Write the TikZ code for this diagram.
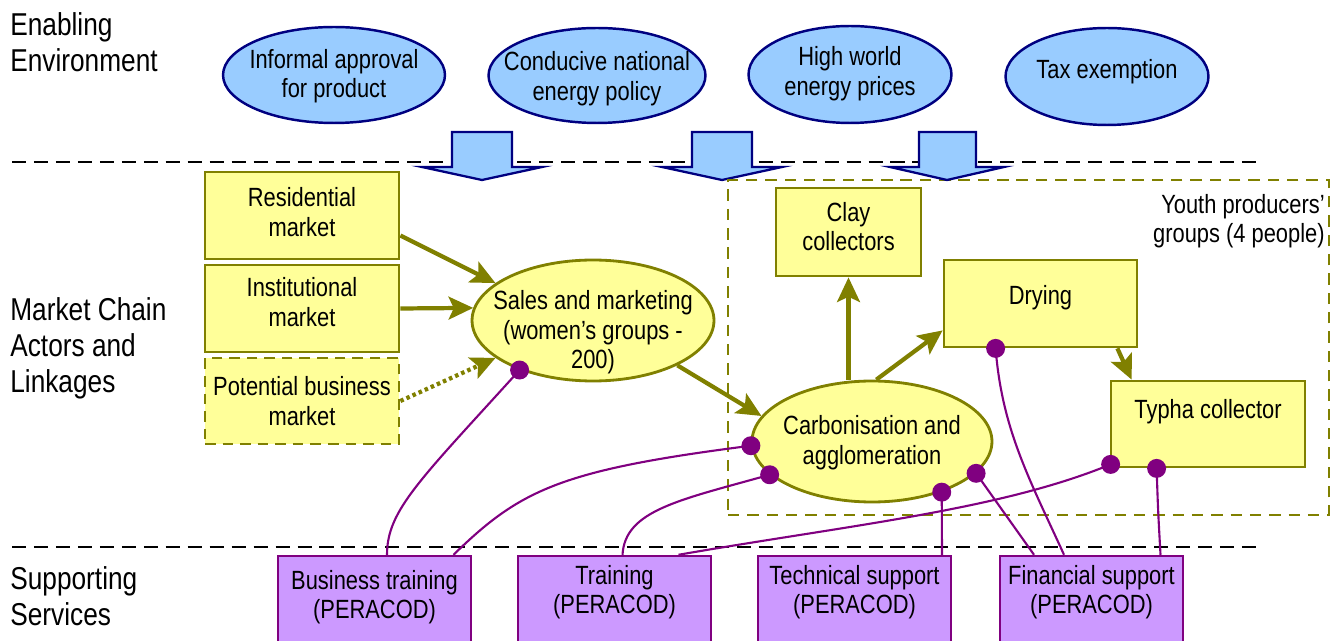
\documentclass[tikz,border=0pt]{standalone}
\usepackage{fontspec}
\setmainfont{Liberation Sans}[FakeStretch=0.83]
\usetikzlibrary{shapes.geometric,arrows.meta,calc}
\definecolor{yfill}{HTML}{FFFF99}
\definecolor{olivec}{HTML}{808000}
\definecolor{bfill}{HTML}{99CCFF}
\definecolor{navyc}{HTML}{000080}
\definecolor{pfill}{HTML}{CC99FF}
\definecolor{purp}{HTML}{800080}
\begin{document}
\begin{tikzpicture}[x=0.02cm,y=-0.02cm,
 txt/.style={font=\fontsize{15}{16.8}\selectfont, align=center, inner sep=0},
 bigtxt/.style={font=\fontsize{18}{20.4}\selectfont, align=left, anchor=west, inner sep=0},
 env/.style={ellipse, draw=navyc, fill=bfill, line width=1.4pt, inner sep=0},
 ybox/.style={rectangle, draw=olivec, fill=yfill, line width=1.6pt, inner sep=0},
 yell/.style={ellipse, draw=olivec, fill=yfill, line width=1.6pt, inner sep=0},
 pbox/.style={rectangle, draw=purp, fill=pfill, line width=1.4pt, inner sep=0},
 sepline/.style={draw=black, line width=1.7pt, dash pattern=on 8pt off 4.5pt},
 flow/.style={draw=olivec, line width=2.4pt, -{Stealth[length=14pt,width=13pt,inset=3pt]}},
 link/.style={draw=purp, line width=1.2pt},
 blockarrow/.style={draw=navyc, fill=bfill, line width=1.3pt, line join=miter},
]
\useasboundingbox (0,0) rectangle (1338,641);

% section labels
\node[bigtxt] (lab1) at (10,42) {Enabling\\Environment};
\node[bigtxt] (lab2) at (10,348) {Market Chain\\Actors and\\Linkages};
\node[bigtxt] (lab3) at (10,596) {Supporting\\Services};

% separators
\coordinate (s1a) at (12,162); \coordinate (s1b) at (1263,162);
\coordinate (s2a) at (12,547); \coordinate (s2b) at (1263,547);
\draw[sepline] (s1a) -- (s1b);
\draw[sepline] (s2a) -- (s2b);

% enabling environment ellipses
\node[env, minimum width=4.44cm, minimum height=1.92cm,
  label={[txt,yshift=-0.8pt]center:Informal approval\\for product}] (e1) at (334,75) {};
\node[env, minimum width=4.34cm, minimum height=1.9cm,
  label={[txt,yshift=-1.7pt]center:Conducive national\\energy policy}] (e2) at (597,75.5) {};
\node[env, minimum width=4.06cm, minimum height=1.94cm,
  label={[txt,yshift=0.6pt]center:High world\\energy prices}] (e3) at (850,74.5) {};
\node[env, minimum width=4.06cm, minimum height=1.94cm,
  label={[txt,yshift=2.6pt]center:Tax exemption}] (e4) at (1107,76.5) {};

% block arrows
\draw[blockarrow] (452,132) -- (512,132) -- (512,167) -- (542,167) -- (482,180) -- (422,167) -- (452,167) -- cycle;
\draw[blockarrow] (692,132) -- (752,132) -- (752,167) -- (782,167) -- (722,180) -- (662,167) -- (692,167) -- cycle;

% youth producers group box
\node[draw=olivec, line width=1.3pt, dash pattern=on 6.5pt off 4.5pt, minimum width=12.02cm, minimum height=6.7cm, inner sep=0] (youth) at (1028.5,347.5) {};
\node[txt, align=right, anchor=east] (youthlab) at (1325,221) {Youth producers’\\groups (4 people)};

\draw[blockarrow] (919,132) -- (976,132) -- (976,167) -- (1004,167) -- (947,180) -- (890,167) -- (919,167) -- cycle;

% market boxes
\node[ybox, minimum width=3.88cm, minimum height=1.74cm,
  label={[txt,yshift=2pt]center:Residential\\market}] (res) at (302,215.5) {};
\node[ybox, minimum width=3.88cm, minimum height=1.74cm,
  label={[txt,yshift=3.6pt]center:Institutional\\market}] (inst) at (302,308.5) {};
\node[ybox, dash pattern=on 6pt off 4pt, minimum width=3.88cm, minimum height=1.72cm,
  label={[txt]center:Potential business\\market}] (pot) at (302,401) {};
\node[yell, minimum width=4.84cm, minimum height=2.42cm,
  label={[txt,yshift=-6.8pt]center:Sales and marketing\\(women’s groups -\\200)}] (sales) at (593,320.5) {};
\node[yell, minimum width=4.8cm, minimum height=2.42cm,
  label={[txt,yshift=-0.8pt]center:Carbonisation and\\agglomeration}] (carb) at (872,441.5) {};
\node[ybox, minimum width=2.9cm, minimum height=1.76cm,
  label={[txt,yshift=3.1pt]center:Clay\\collectors}] (clay) at (848.5,232) {};
\node[ybox, minimum width=3.86cm, minimum height=1.74cm,
  label={[txt,yshift=3.3pt]center:Drying}] (dry) at (1040.5,303.5) {};
\node[ybox, minimum width=3.88cm, minimum height=1.72cm,
  label={[txt,yshift=6.8pt]center:Typha collector}] (typha) at (1208,424) {};

% supporting services
\node[pbox, minimum width=3.86cm, minimum height=1.88cm,
  label={[txt,yshift=3.4pt]center:Business training\\(PERACOD)}] (bt) at (374.5,603) {};
\node[pbox, minimum width=3.86cm, minimum height=1.88cm,
  label={[txt,yshift=6.2pt]center:Training\\(PERACOD)}] (tr) at (614.5,603) {};
\node[pbox, minimum width=3.86cm, minimum height=1.88cm,
  label={[txt,yshift=6.2pt]center:Technical support\\(PERACOD)}] (tech) at (854.5,603) {};
\node[pbox, minimum width=3.66cm, minimum height=1.88cm,
  label={[txt,yshift=6.2pt]center:Financial support\\(PERACOD)}] (fin) at (1091.5,603) {};

% market flows
\draw[flow] ($(res.east)+(0,20)$) -- (sales.159);
\draw[flow] (inst.east) -- (sales.174);
\draw[olivec, line width=2.4pt, dash pattern=on 2pt off 1.8pt] (pot.east) -- ($(pot.east)!0.86!(sales.201)$);
\draw[flow] ($(pot.east)!0.85!(sales.201)$) -- (sales.201);
\draw[flow] (sales.332) -- (carb.167);
\draw[flow] (carb.north -| clay.south) -- (clay.south);
\draw[flow] (carb.86) -- ($(dry.south west)+(0,-18)$);
\draw[flow] ($(dry.south east)+(-21,0)$) -- ($(typha.north west)+(22,0)$);

% support links
\coordinate (d1) at (sales.214);
\coordinate (d2) at (carb.182);
\coordinate (d3) at (carb.198);
\coordinate (d4) at (carb.324);
\coordinate (d5) at (carb.343);
\coordinate (d6) at ($(dry.south west)+(53,0)$);
\coordinate (d7) at ($(typha.south west)+(1,-4)$);
\coordinate (d8) at ($(typha.south west)+(47,0)$);

\draw[link] (d1) .. controls (420,480) and (387,510) .. ($(bt.north)+(12.5,0)$);
\draw[link] (d2) .. controls (560,470) and (520,490) .. ($(bt.north)+(79,0)$);
\draw[link] (d3) .. controls (680,500) and (625,510) .. ($(tr.north)+(8,0)$);
\draw[link] (d7) .. controls (1000,510) and (850,525) .. ($(tr.north)+(64,0)$);
\draw[link] (d4) -- ($(tech.north)+(87.5,0)$);
\draw[link] (d5) -- ($(fin.north)+(-57.5,0)$);
\draw[link] (d6) .. controls (1002,430) and (1030,480) .. ($(fin.north)+(-27.5,0)$);
\draw[link] (d8) .. controls (1158,510) .. ($(fin.north)+(69,0)$);

\foreach \d in {d1,d2,d3,d4,d5,d6,d7,d8}
  \fill[purp] (\d) circle[radius=5.4pt];
\end{tikzpicture}
\end{document}
